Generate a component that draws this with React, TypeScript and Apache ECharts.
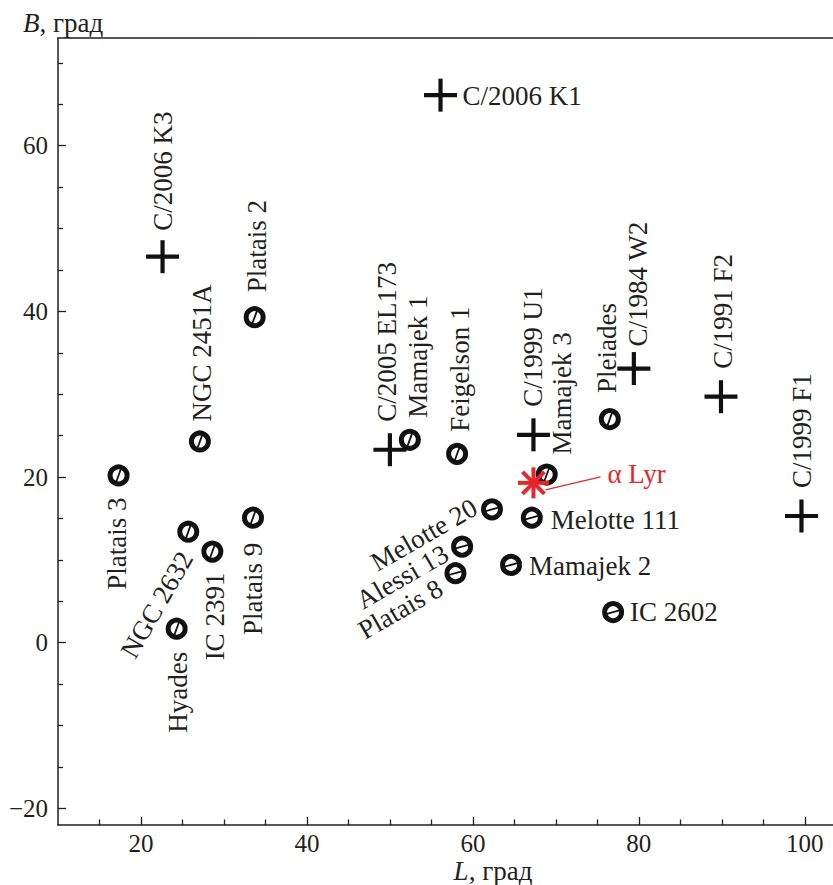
import React, { useEffect, useRef } from "react";
import * as echarts from "echarts";

// ---- data ----
const clusterNames = [
  "Platais 3", "NGC 2451A", "NGC 2632", "IC 2391", "Hyades", "Platais 9", "Platais 2",
  "Mamajek 1", "Feigelson 1", "Pleiades", "Mamajek 3", "Melotte 20", "Melotte 111",
  "Alessi 13", "Platais 8", "Mamajek 2", "IC 2602",
];
const clusterL = [17.3, 27.1, 25.7, 28.6, 24.3, 33.5, 33.7, 52.4, 58.1, 76.5, 68.9, 62.3, 67.1, 58.7, 57.9, 64.6, 76.9];
const clusterB = [20.2, 24.3, 13.4, 11.0, 1.7, 15.1, 39.3, 24.5, 22.8, 27.0, 20.3, 16.1, 15.1, 11.6, 8.4, 9.4, 3.7];

const cometNames = ["C/2006 K1", "C/2006 K3", "C/2005 EL173", "C/1999 U1", "C/1984 W2", "C/1991 F2", "C/1999 F1"];
const cometL = [56.1, 22.6, 50.0, 67.3, 79.4, 89.9, 99.6];
const cometB = [66.1, 46.6, 23.3, 25.1, 33.1, 29.7, 15.3];

const starNames = ["α Lyr"];
const starL = [67.3];
const starB = [19.3];

const xMajorTicks = [20, 40, 60, 80, 100];
const xMinorTicks = [15, 25, 30, 35, 45, 50, 55, 65, 70, 75, 85, 90, 95];
const yMajorTicks = [-20, 0, 20, 40, 60];
const yMinorTicks = [-15, -10, -5, 5, 10, 15, 25, 30, 35, 45, 50, 55, 65, 70];

// ---- label placement (pixel offsets from marker, rotation, alignment) ----
const labelLayout: Record<string, [number, number, number, string]> = {
  "Platais 3": [-2, 22, 90, "right"],
  "NGC 2451A": [2, -20, 90, "left"],
  "NGC 2632": [-2, 22, 60, "right"],
  "IC 2391": [3, 21, 90, "right"],
  "Hyades": [1, 23, 90, "right"],
  "Platais 9": [0, 25, 90, "right"],
  "Platais 2": [2, -25, 90, "left"],
  "Mamajek 1": [8, -22, 90, "left"],
  "Feigelson 1": [3, -22, 90, "left"],
  "Pleiades": [-3, -26, 90, "left"],
  "Mamajek 3": [15, -20, 90, "left"],
  "Melotte 20": [-17, -4, 30, "right"],
  "Melotte 111": [19, 2, 0, "left"],
  "Alessi 13": [-16, 5, 30, "right"],
  "Platais 8": [-15, 13, 30, "right"],
  "Mamajek 2": [18, 1, 0, "left"],
  "IC 2602": [17, 0, 0, "left"],
  "C/2006 K1": [22, 1, 0, "left"],
  "C/2006 K3": [0, -26, 90, "left"],
  "C/2005 EL173": [-3, -28, 90, "left"],
  "C/1999 U1": [0, -28, 90, "left"],
  "C/1984 W2": [4, -22, 90, "left"],
  "C/1991 F2": [2, -28, 90, "left"],
  "C/1999 F1": [1, -28, 90, "left"],
  "α Lyr": [74, -9, 0, "left"],
};

const FONT = '"Liberation Serif", "Times New Roman", serif';
const FS = 27;
const TICK_FS = 25;
const INK = "#231f20";
const MARK = "#111111";
const RED = "#e5262b";

function labelEl(name: string, px: number, py: number, color: string) {
  const [dx, dy, rot, align] = labelLayout[name];
  return {
    type: "text",
    x: px + dx,
    y: py + dy,
    rotation: (rot * Math.PI) / 180,
    style: {
      text: name,
      fill: color,
      fontSize: FS,
      fontFamily: FONT,
      align,
      verticalAlign: "middle",
    },
  };
}

export default function App() {
  const ref = useRef<HTMLDivElement>(null);
  useEffect(() => {
    if (!ref.current) return;
    const chart = echarts.init(ref.current, null, { renderer: "svg" });
    const xMin = 10, xMax = 103.4, yMin = -22, yMax = 73;

    const axisLineStyle = { color: INK, width: 1.5 };
    const labelStyle = { fontSize: TICK_FS, fontFamily: FONT, color: INK };

    const option: any = {
      animation: false,
      grid: { left: 58, right: 0, top: 38, bottom: 60, containLabel: false },
      xAxis: [
        {
          type: "value", min: xMin, max: xMax, position: "bottom",
          axisLine: { show: true, onZero: false, lineStyle: axisLineStyle },
          axisTick: { show: true, inside: true, length: 8, customValues: xMajorTicks, lineStyle: { color: INK, width: 1.3 } },
          axisLabel: { show: true, customValues: xMajorTicks, margin: 6, ...labelStyle },
          splitLine: { show: false },
        },
        {
          type: "value", min: xMin, max: xMax, position: "bottom",
          axisLine: { show: false, onZero: false },
          axisTick: { show: true, inside: true, length: 5.5, customValues: xMinorTicks, lineStyle: { color: INK, width: 1.3 } },
          axisLabel: { show: false },
          splitLine: { show: false },
        },
        {
          type: "value", min: xMin, max: xMax, position: "top",
          axisLine: { show: true, onZero: false, lineStyle: axisLineStyle },
          axisTick: { show: false },
          axisLabel: { show: false },
          splitLine: { show: false },
        },
      ],
      yAxis: [
        {
          type: "value", min: yMin, max: yMax, position: "left",
          axisLine: { show: true, onZero: false, lineStyle: axisLineStyle },
          axisTick: { show: true, inside: true, length: 8, customValues: yMajorTicks, lineStyle: { color: INK, width: 1.3 } },
          axisLabel: {
            show: true, customValues: yMajorTicks, margin: 10, ...labelStyle,
            formatter: (v: number) => String(v).replace("-", "\u2212"),
          },
          splitLine: { show: false },
        },
        {
          type: "value", min: yMin, max: yMax, position: "left",
          axisLine: { show: false, onZero: false },
          axisTick: { show: true, inside: true, length: 5, customValues: yMinorTicks, lineStyle: { color: INK, width: 1.3 } },
          axisLabel: { show: false },
          splitLine: { show: false },
        },
      ],
      graphic: [
        {
          type: "text", left: 23, top: 9,
          style: {
            text: "{i|B}, град", fontSize: FS, fontFamily: FONT, fill: INK,
            rich: { i: { fontStyle: "italic", fontSize: FS, fontFamily: FONT, fill: INK } },
          },
        },
        {
          type: "text", x: 493, y: 871,
          style: {
            text: "{i|L}, град", fontSize: FS, fontFamily: FONT, fill: INK, align: "center", verticalAlign: "middle",
            rich: { i: { fontStyle: "italic", fontSize: FS, fontFamily: FONT, fill: INK } },
          },
        },
      ],
      series: [
        {
          type: "custom",
          name: "clusters",
          coordinateSystem: "cartesian2d",
          xAxisIndex: 0, yAxisIndex: 0,
          clip: false,
          data: clusterL.map((l, i) => [l, clusterB[i]]),
          encode: { x: 0, y: 1 },
          renderItem: (params: any, api: any) => {
            const i = params.dataIndex;
            const p = api.coord([api.value(0), api.value(1)]);
            const name = clusterNames[i];
            const rot = labelLayout[name][2];
            const barDeg = rot >= 60 ? 70 : 15;
            const a = (barDeg * Math.PI) / 180;
            const r = 6.5;
            return {
              type: "group",
              children: [
                { type: "circle", shape: { cx: p[0], cy: p[1], r: 8.5 }, style: { fill: "none", stroke: MARK, lineWidth: 5 } },
                {
                  type: "line",
                  shape: { x1: p[0] - r * Math.cos(a), y1: p[1] + r * Math.sin(a), x2: p[0] + r * Math.cos(a), y2: p[1] - r * Math.sin(a) },
                  style: { stroke: MARK, lineWidth: 1.8 },
                },
                labelEl(name, p[0], p[1], INK),
              ],
            };
          },
        },
        {
          type: "custom",
          name: "comets",
          coordinateSystem: "cartesian2d",
          xAxisIndex: 0, yAxisIndex: 0,
          clip: false,
          data: cometL.map((l, i) => [l, cometB[i]]),
          encode: { x: 0, y: 1 },
          renderItem: (params: any, api: any) => {
            const i = params.dataIndex;
            const p = api.coord([api.value(0), api.value(1)]);
            const h = 16.5, t = 2.1;
            return {
              type: "group",
              children: [
                { type: "rect", shape: { x: p[0] - h, y: p[1] - t, width: 2 * h, height: 2 * t }, style: { fill: MARK } },
                { type: "rect", shape: { x: p[0] - t, y: p[1] - h, width: 2 * t, height: 2 * h }, style: { fill: MARK } },
                labelEl(cometNames[i], p[0], p[1], INK),
              ],
            };
          },
        },
        {
          type: "custom",
          name: "star",
          coordinateSystem: "cartesian2d",
          xAxisIndex: 0, yAxisIndex: 0,
          clip: false,
          data: starL.map((l, i) => [l, starB[i]]),
          encode: { x: 0, y: 1 },
          renderItem: (params: any, api: any) => {
            const i = params.dataIndex;
            const p = api.coord([api.value(0), api.value(1)]);
            const R = 15.5;
            const spokes = [0, 45, 90, 135].map((d) => {
              const a = (d * Math.PI) / 180;
              return {
                type: "line",
                shape: { x1: p[0] - R * Math.cos(a), y1: p[1] - R * Math.sin(a), x2: p[0] + R * Math.cos(a), y2: p[1] + R * Math.sin(a) },
                style: { stroke: RED, lineWidth: 4 },
              };
            });
            return {
              type: "group",
              children: [
                ...spokes,
                { type: "line", shape: { x1: p[0] + 12, y1: p[1] + 7, x2: p[0] + 67, y2: p[1] - 6 }, style: { stroke: RED, lineWidth: 1.2 } },
                labelEl(starNames[i], p[0], p[1], RED),
              ],
            };
          },
        },
      ],
    };
    chart.setOption(option);
    return () => chart.dispose();
  }, []);
  return <div ref={ref} style={{ position: "fixed", left: 0, top: 0, width: 833, height: 885, background: "#fff" }} />;
}
